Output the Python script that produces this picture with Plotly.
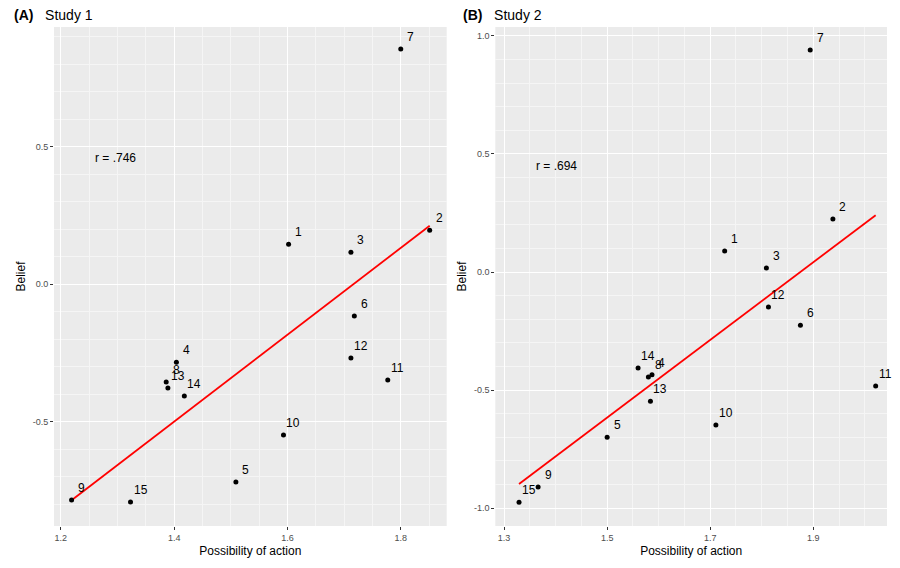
import numpy as np
import plotly.graph_objects as go

# Study 1
labels = [str(i) for i in range(1, 16)]
s1_x = [1.602, 1.851, 1.712, 1.404, 1.509, 1.718, 1.800, 1.386, 1.219, 1.593, 1.777, 1.712, 1.389, 1.418, 1.323]
s1_y = [0.145, 0.196, 0.116, -0.284, -0.720, -0.116, 0.855, -0.356, -0.785, -0.549, -0.349, -0.269, -0.378, -0.407, -0.793]
# Study 2
s2_x = [1.728, 1.938, 1.809, 1.587, 1.500, 1.875, 1.894, 1.580, 1.366, 1.711, 2.021, 1.813, 1.584, 1.560, 1.329]
s2_y = [0.089, 0.225, 0.017, -0.435, -0.700, -0.225, 0.941, -0.445, -0.911, -0.648, -0.483, -0.148, -0.547, -0.407, -0.975]

fig = go.Figure()
font = dict(family="Liberation Sans, Arial", size=12, color="black")

for i, (xs, ys, r) in enumerate([(s1_x, s1_y, "r = .746"), (s2_x, s2_y, "r = .694")]):
    xa = "x" if i == 0 else "x2"
    ya = "y" if i == 0 else "y2"
    x = np.array(xs); y = np.array(ys)
    b, a = np.polyfit(x, y, 1)
    lx = np.array([x.min(), x.max()])
    fig.add_trace(go.Scatter(x=lx, y=a + b * lx, mode="lines", line=dict(color="red", width=1.8),
                             xaxis=xa, yaxis=ya, showlegend=False))
    fig.add_trace(go.Scatter(x=xs, y=ys, mode="markers", marker=dict(color="black", size=5),
                             xaxis=xa, yaxis=ya, showlegend=False))
    for xv, yv, t in zip(xs, ys, labels):
        fig.add_annotation(x=xv, y=yv, text=t, showarrow=False, xref=xa, yref=ya,
                           xshift=10, yshift=12, font=font)
    fig.add_annotation(x=0.1, y=0.755 if i == 0 else 0.74, xref=f"{xa} domain",
                       yref=f"{ya} domain", text=r, showarrow=False, font=font)

ax = dict(showgrid=True, gridcolor="white", gridwidth=1.2, minor=dict(showgrid=True, gridcolor="#F5F5F5"),
          zeroline=False, ticks="outside", ticklen=3, tickcolor="#333", tickfont=dict(size=9, color="#4D4D4D"),
          title_font=dict(size=12, color="black"), title_standoff=4)

fig.update_layout(
    width=900, height=568, plot_bgcolor="#EBEBEB", paper_bgcolor="white",
    margin=dict(l=46, r=21, t=19, b=50), font=font,
    xaxis=dict(ax, domain=[0, 0.4714], range=[1.188, 1.881], tickvals=[1.2, 1.4, 1.6, 1.8],
               ticktext=["1.2", "1.4", "1.6", "1.8"], title_text="Possibility of action"),
    yaxis=dict(ax, range=[-0.88, 0.935], tickvals=[-0.5, 0, 0.5], ticktext=["-0.5", "0.0", "0.5"],
               title_text="Belief"),
    xaxis2=dict(ax, domain=[0.5298, 1], range=[1.283, 2.043], tickvals=[1.3, 1.5, 1.7, 1.9],
                ticktext=["1.3", "1.5", "1.7", "1.9"], title_text="Possibility of action", anchor="y2"),
    yaxis2=dict(ax, range=[-1.076, 1.038], tickvals=[-1, -0.5, 0, 0.5, 1],
                ticktext=["-1.0", "-0.5", "0.0", "0.5", "1.0"], title_text="Belief", anchor="x2"),
)
fig.add_annotation(x=-0.05, y=1.0, xref="paper", yref="paper", xanchor="left", yanchor="bottom",
                   text="<b>(A)</b>   Study 1", showarrow=False, font=dict(size=14), yshift=2)
fig.add_annotation(x=0.488, y=1.0, xref="paper", yref="paper", xanchor="left", yanchor="bottom",
                   text="<b>(B)</b>   Study 2", showarrow=False, font=dict(size=14), yshift=2)

fig.write_html("out.html")
